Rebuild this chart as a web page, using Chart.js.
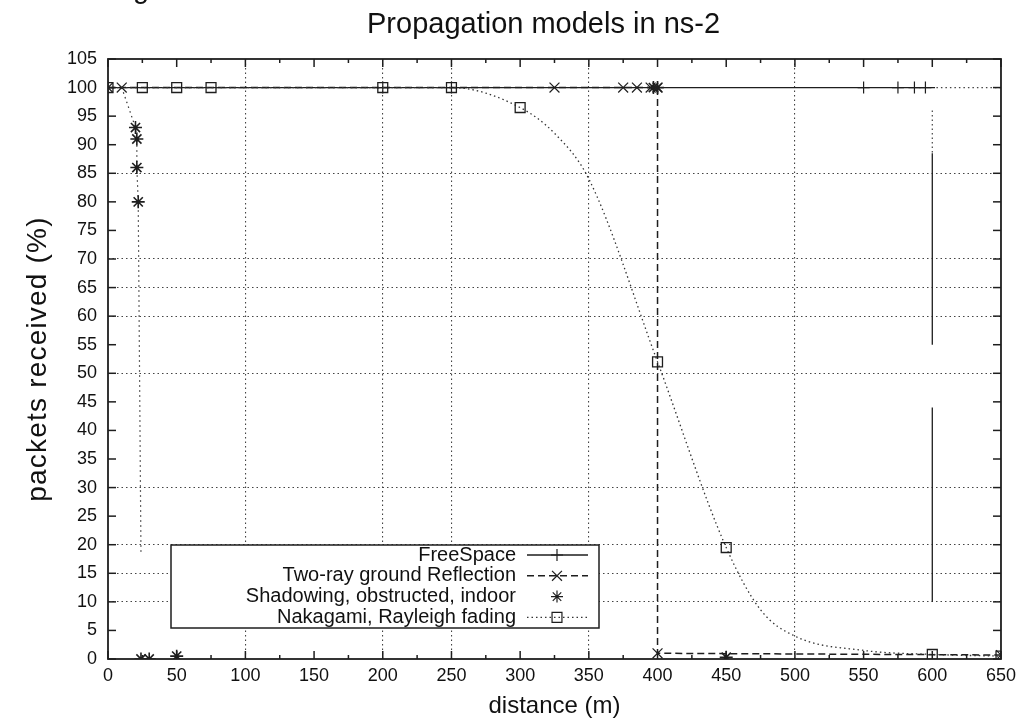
<!DOCTYPE html>
<html>
<head>
<meta charset="utf-8">
<script src="https://cdn.jsdelivr.net/npm/chart.js@4.4.1/dist/chart.umd.min.js"></script>
<style>
  html, body { margin: 0; padding: 0; background: #fff; }
  canvas { display: block; }
</style>
</head>
<body>
<canvas id="chartPropagasi" width="1022" height="719"></canvas>
<script>
// nilai (perkiraan)
const xTickMarks = [0, 25, 50, 75, 100, 125, 150, 175, 200, 225, 250, 275, 300, 325, 350,
    375, 400, 425, 450, 475, 500, 525, 550, 575, 600, 625, 650];
const xTickLabels = [0, 50, 100, 150, 200, 250, 300, 350, 400, 450, 500, 550, 600, 650];
const yTickLabels = [0, 5, 10, 15, 20, 25, 30, 35, 40, 45, 50, 55, 60, 65, 70, 75, 80, 85,
    90, 95, 100, 105];
const gridX = [100, 200, 250, 350, 500];
const gridY = [10, 15, 20, 30, 50, 60, 65, 70, 85];

const freeSpaceX = [0, 200, 250, 400, 550, 575, 587, 595, 602, 600, 600, 600, 600, 600, 600];
const freeSpaceY = [100, 100, 100, 100, 100, 100, 100, 100, 100, null, 88.5, 55, null, 44, 10];

const twoRayX = [0, 10, 325, 375, 385, 395, 400, 400, 650];
const twoRayY = [100, 100, 100, 100, 100, 100, 100, 1, 0.7];

const shadowingX = [20, 21, 21, 22, 24, 30, 50, 397, 400, 450];
const shadowingY = [93, 91, 86, 80, 0, 0, 0.5, 100, 100, 0.3];
const shadowTraceX = [10, 20, 21, 21, 22, 24];
const shadowTraceY = [100, 93, 91, 86, 80, 18.5];

const nakagamiX = [0, 25, 50, 75, 200, 250, 300, 325, 350, 400, 450, 475, 500, 550, 600, 650];
const nakagamiY = [100, 100, 100, 100, 100, 100, 96.5, 92, 84, 52, 19.5, 8.6, 4, 1.5, 0.8, 0.5];
const nakagamiMarked = [0, 25, 50, 75, 200, 250, 300, 400, 450, 600, 650];
const nakagamiTailX = [603, 650, 650, 600, 600];
const nakagamiTailY = [100, 100, null, 96, 88.5];

const zip = (xs, ys) => xs.map((x, i) => ({ x, y: ys[i] }));
const ink = '#1e1e1e';
const fontFamily = '"Liberation Sans", Arial, Helvetica, sans-serif';

const datasets = [
    {
        label: 'FreeSpace',
        legendRow: 0,
        data: zip(freeSpaceX, freeSpaceY),
        showLine: true,
        borderColor: ink,
        borderWidth: 1.3,
        pointStyle: 'cross',
        pointRadius: (ctx) => (ctx.raw && ctx.raw.y > 99 && ctx.raw.x < 600 ? 6 : 0),
        pointBorderColor: ink,
        pointBorderWidth: 1.2,
        order: 3,
    },
    {
        label: 'Two-ray ground Reflection',
        legendRow: 1,
        data: zip(twoRayX, twoRayY),
        showLine: true,
        borderColor: ink,
        borderWidth: 1.5,
        borderDash: [7, 4],
        pointStyle: 'crossRot',
        pointRadius: 7,
        pointBorderColor: ink,
        pointBorderWidth: 1.2,
        order: 2,
    },
    {
        label: 'Shadowing, obstructed, indoor',
        legendRow: 2,
        data: zip(shadowingX, shadowingY),
        showLine: false,
        pointStyle: 'star',
        pointRadius: 6.5,
        pointBorderColor: ink,
        pointBorderWidth: 1.6,
        order: 1,
    },
    {
        label: 'shadow trace',
        data: zip(shadowTraceX, shadowTraceY),
        showLine: true,
        borderColor: '#333',
        borderWidth: 1.2,
        borderDash: [1.5, 3.5],
        pointRadius: 0,
        order: 4,
    },
    {
        label: 'Nakagami, Rayleigh fading',
        legendRow: 3,
        data: zip(nakagamiX, nakagamiY),
        showLine: true,
        cubicInterpolationMode: 'monotone',
        borderColor: '#333',
        borderWidth: 1.3,
        borderDash: [1.5, 3],
        pointStyle: 'rect',
        pointRadius: (ctx) => (ctx.raw && nakagamiMarked.includes(ctx.raw.x) ? 7 : 0),
        pointBorderColor: ink,
        pointBackgroundColor: 'rgba(0,0,0,0)',
        pointBorderWidth: 1.3,
        order: 0,
    },
    {
        label: 'nakagami tail',
        data: zip(nakagamiTailX, nakagamiTailY),
        showLine: true,
        borderColor: '#444',
        borderWidth: 1.2,
        borderDash: [1.5, 3],
        pointRadius: 0,
        order: 5,
    },
];

const drawMarker = (ctx, style, radius, x, y) => {
    if (Chart.helpers && Chart.helpers.drawPoint) {
        Chart.helpers.drawPoint(ctx, { pointStyle: style, radius, rotation: 0, borderWidth: 1.2 }, x, y);
    }
};

const gnuplotFrame = {
    id: 'gnuplotFrame',
    afterDraw(chart) {
        const { ctx, chartArea: a, scales: { x, y } } = chart;
        const line = (x1, y1, x2, y2) => {
            ctx.beginPath();
            ctx.moveTo(x1, y1);
            ctx.lineTo(x2, y2);
            ctx.stroke();
        };

        ctx.save();
        ctx.strokeStyle = ink;
        ctx.lineWidth = 1.5;
        ctx.setLineDash([]);

        // tick ke dalam, di keempat sisi
        y.ticks.forEach((t) => {
            const py = y.getPixelForValue(t.value);
            line(a.left, py, a.left + 8, py);
            line(a.right - 8, py, a.right, py);
        });
        x.ticks.forEach((t) => {
            const px = x.getPixelForValue(t.value);
            const len = xTickLabels.includes(t.value) ? 8 : 4;
            line(px, a.bottom, px, a.bottom - len);
            line(px, a.top, px, a.top + len);
        });

        ctx.lineWidth = 1.8;
        ctx.strokeRect(a.left, a.top, a.right - a.left, a.bottom - a.top);

        // kotak legenda
        const box = { left: 171, top: 545, right: 599, bottom: 628 };
        ctx.fillStyle = '#fff';
        ctx.fillRect(box.left, box.top, box.right - box.left, box.bottom - box.top);
        ctx.lineWidth = 1.5;
        ctx.strokeRect(box.left, box.top, box.right - box.left, box.bottom - box.top);

        ctx.font = `20px ${fontFamily}`;
        ctx.textAlign = 'right';
        ctx.textBaseline = 'middle';
        chart.data.datasets.forEach((ds) => {
            if (ds.legendRow === undefined) return;
            const rowY = 555 + ds.legendRow * 20.8;
            ctx.fillStyle = '#111';
            ctx.fillText(ds.label, 516, rowY);
            ctx.strokeStyle = ds.borderColor || ink;
            if (ds.showLine) {
                ctx.lineWidth = ds.borderWidth;
                ctx.setLineDash(ds.borderDash || []);
                line(527, rowY, 588, rowY);
                ctx.setLineDash([]);
            }
            ctx.strokeStyle = ink;
            ctx.fillStyle = 'rgba(0,0,0,0)';
            ctx.lineWidth = 1.2;
            const r = ds.pointStyle === 'cross' ? 6 : ds.pointStyle === 'star' ? 6 : 7;
            drawMarker(ctx, ds.pointStyle, r, 557, rowY);
        });

        // judul dan label sumbu
        ctx.fillStyle = '#111';
        ctx.textAlign = 'left';
        ctx.textBaseline = 'alphabetic';
        ctx.font = `29px ${fontFamily}`;
        ctx.fillText('g', 133, -2);
        ctx.fillText('Propagation models in ns-2', 367, 33);

        ctx.textAlign = 'center';
        ctx.font = `24px ${fontFamily}`;
        ctx.fillText('distance (m)', (a.left + a.right) / 2, 713);

        ctx.translate(38, (a.top + a.bottom) / 2);
        ctx.rotate(-Math.PI / 2);
        ctx.textBaseline = 'middle';
        ctx.font = `28px ${fontFamily}`;
        if ('letterSpacing' in ctx) ctx.letterSpacing = '1.2px';
        ctx.fillText('packets received (%)', 0, 0);
        ctx.restore();
    },
};

new Chart(document.getElementById('chartPropagasi'), {
    type: 'scatter',
    data: { datasets },
    plugins: [gnuplotFrame],
    options: {
        responsive: false,
        animation: false,
        events: [],
        layout: { padding: { top: 59, right: 20, left: 0, bottom: 0 } },
        plugins: { legend: { display: false }, tooltip: { enabled: false }, title: { display: false } },
        scales: {
            x: {
                type: 'linear',
                min: 0,
                max: 650,
                afterBuildTicks: (scale) => { scale.ticks = xTickMarks.map((value) => ({ value })); },
                afterFit: (scale) => { scale.height = 60; },
                ticks: {
                    autoSkip: false,
                    maxRotation: 0,
                    padding: 6,
                    color: '#111',
                    font: { family: fontFamily, size: 18 },
                    callback: (value) => (xTickLabels.includes(value) ? String(value) : ''),
                },
                grid: {
                    drawTicks: false,
                    lineWidth: 1.1,
                    color: (ctx) => (ctx.tick && gridX.includes(ctx.tick.value) ? '#444' : 'rgba(0,0,0,0)'),
                },
                border: { display: false, dash: [1.5, 3] },
            },
            y: {
                type: 'linear',
                min: 0,
                max: 105,
                afterBuildTicks: (scale) => { scale.ticks = yTickLabels.map((value) => ({ value })); },
                afterFit: (scale) => { scale.width = 108; },
                ticks: {
                    padding: 11,
                    color: '#111',
                    font: { family: fontFamily, size: 18 },
                    callback: (value) => String(value),
                },
                grid: {
                    drawTicks: false,
                    lineWidth: 1.1,
                    color: (ctx) => (ctx.tick && gridY.includes(ctx.tick.value) ? '#444' : 'rgba(0,0,0,0)'),
                },
                border: { display: false, dash: [1.5, 3] },
            },
        },
    },
});
</script>
</body>
</html>
